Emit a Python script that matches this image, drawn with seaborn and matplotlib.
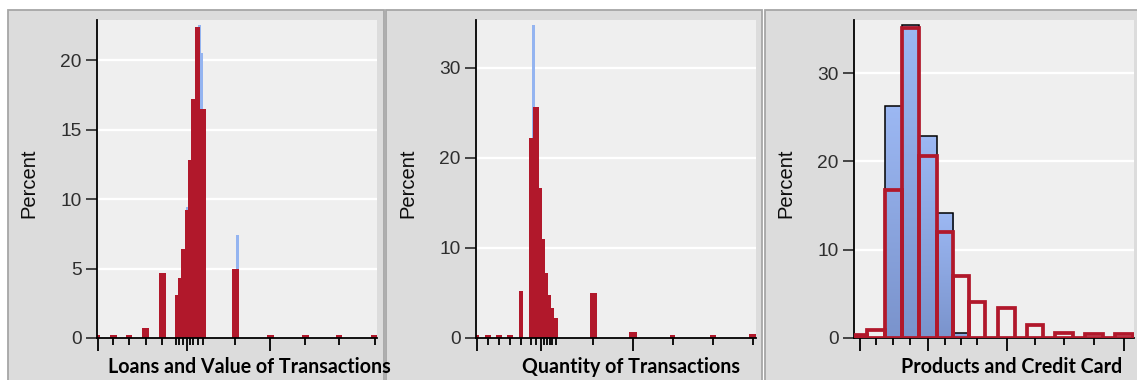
import numpy as np
import matplotlib
matplotlib.use("Agg")
import matplotlib.pyplot as plt
from matplotlib.patches import Rectangle
from matplotlib.colors import LinearSegmentedColormap
import seaborn as sns

# ---------------- data (x on a scaled 0-100 axis, y in percent) ----------------
# Loans and Value of Transactions
loans_left = [-0.4, 4.6, 10.4, 16.1, 22.1, 27.9, 28.8, 30.0, 31.4, 32.6, 33.6, 35.0, 36.8,
              48.2, 60.7, 73.2, 85.4, 97.9]
loans_right = [1.1, 7.1, 12.5, 18.6, 24.6, 28.8, 30.0, 31.4, 32.6, 33.6, 35.0, 36.8, 38.8,
               50.7, 63.2, 75.7, 87.5, 100.4]
loans_pct = [0.25, 0.25, 0.25, 0.75, 4.7, 3.1, 4.3, 6.4, 9.2, 12.8, 17.2, 22.4, 16.5,
             5.0, 0.25, 0.25, 0.25, 0.25]
loans_blue_left = [31.7, 36.2, 37.0, 49.6]
loans_blue_right = [32.6, 37.0, 37.9, 50.8]
loans_blue_pct = [9.4, 22.55, 20.5, 7.4]

# Quantity of Transactions
qty_left = [-0.4, 3.2, 7.1, 11.2, 15.4, 19.0, 20.5, 22.5, 23.7, 24.6, 25.8, 26.7, 27.9,
            40.7, 54.6, 69.3, 83.6, 97.6]
qty_right = [1.1, 5.3, 9.2, 13.1, 16.9, 20.5, 22.5, 23.7, 24.6, 25.8, 26.7, 27.9, 29.2,
             43.1, 57.4, 71.1, 85.6, 100.3]
qty_pct = [0.35, 0.35, 0.35, 0.35, 5.2, 22.2, 25.6, 16.6, 11.0, 7.2, 4.8, 3.3, 2.2,
           5.0, 0.7, 0.35, 0.35, 0.4]
qty_blue_left = [20.0]
qty_blue_right = [21.1]
qty_blue_pct = [34.8]

# Products and Credit Card
prod_left = [-0.5, 4.6, 11.1, 17.1, 23.2, 29.5, 35.4, 40.9, 51.5, 61.7, 71.8, 82.5, 93.2]
prod_right = [4.6, 11.1, 17.1, 23.2, 29.5, 35.4, 40.9, 46.8, 57.5, 67.6, 78.3, 89.0, 99.75]
prod_pct = [0.3, 0.9, 16.8, 35.1, 20.6, 12.0, 7.0, 4.05, 3.4, 1.45, 0.6, 0.45, 0.45]
prod_blue_left = [11.1, 17.1, 23.2, 29.5, 35.4]
prod_blue_right = [17.1, 23.2, 29.5, 35.4, 40.9]
prod_blue_pct = [26.3, 35.45, 22.9, 14.2, 0.6]

titles = ["Loans and Value of Transactions", "Quantity of Transactions", "Products and Credit Card"]
y_ticks = [[0, 5, 10, 15, 20], [0, 10, 20, 30], [0, 10, 20, 30]]

# ---------------- style ----------------
RED = "#b1182b"
BLUE = "#94b4f0"
W, H = 1137, 380

sns.set_theme(style="ticks")
plt.rcParams["font.family"] = ["Liberation Sans", "DejaVu Sans"]

fig = plt.figure(figsize=(W / 100, H / 100), dpi=100)
fig.patch.set_facecolor("white")

# grey cell frames behind each plot
for x0, x1 in [(8, 384), (386, 762), (765, 1150)]:
    fig.add_artist(Rectangle((x0 / W, -0.1), (x1 - x0) / W, 1.1 - 10 / H,
                             transform=fig.transFigure, facecolor="#dcdcdc",
                             edgecolor="#a6a6a6", lw=1.3, zorder=-5))


def bins_plot(ax, lefts, rights, heights, **kw):
    lefts = np.asarray(lefts, float)
    rights = np.asarray(rights, float)
    edges = [float(e) for e in np.unique(np.r_[lefts, rights])]
    centers = (lefts + rights) / 2
    n0 = len(ax.patches)
    sns.histplot(x=centers, weights=np.asarray(heights, float), bins=edges,
                 stat="count", ax=ax, **kw)
    return ax.patches[n0:]


def gradient_fill(ax, patches, top, bottom):
    cmap = LinearSegmentedColormap.from_list("bar_grad", [bottom, top])
    grad = np.linspace(0, 1, 128).reshape(-1, 1)
    for p in patches:
        h = p.get_height()
        if h <= 0:
            continue
        x, w = p.get_x(), p.get_width()
        im = ax.imshow(grad, extent=(x, x + w, 0, h), origin="lower", cmap=cmap,
                       aspect="auto", interpolation="bilinear", zorder=p.get_zorder() - 0.05)
        im.set_clip_path(p)
        p.set_facecolor("none")


panels = [
    dict(left=97, ylim=22.9, red=(loans_left, loans_right, loans_pct),
         blue=(loans_blue_left, loans_blue_right, loans_blue_pct), long_idx=[0, 8, 14], hollow=False),
    dict(left=476, ylim=35.3, red=(qty_left, qty_right, qty_pct),
         blue=(qty_blue_left, qty_blue_right, qty_blue_pct), long_idx=[0, 7, 14], hollow=False),
    dict(left=854, ylim=36.0, red=(prod_left, prod_right, prod_pct),
         blue=(prod_blue_left, prod_blue_right, prod_blue_pct), long_idx=[0, 4, 8, 12], hollow=True),
]

for i, p in enumerate(panels):
    ax = fig.add_axes([p["left"] / W, 42 / H, 280 / W, 318 / H])
    ax.set_facecolor("#efefef")

    if p["hollow"]:
        bp = bins_plot(ax, *p["blue"], color=BLUE, edgecolor="black", linewidth=1.1, alpha=1)
        gradient_fill(ax, bp, "#9cb8f3", "#7a93cc")
        bins_plot(ax, *p["red"], fill=False, color=RED, linewidth=2.7, zorder=3)
    else:
        bins_plot(ax, *p["blue"], color=BLUE, linewidth=0, alpha=1)
        bins_plot(ax, *p["red"], color=RED, linewidth=0, alpha=1)

    ax.set_xlim(0, 100)
    ax.set_ylim(0, p["ylim"])

    # ticks at the bin centres, some drawn longer
    lefts, rights, _ = p["red"]
    centers = (np.asarray(lefts) + np.asarray(rights)) / 2
    major = [centers[k] for k in p["long_idx"]]
    minor = [c for k, c in enumerate(centers) if k not in p["long_idx"]]
    ax.set_xticks(major)
    ax.set_xticks(minor, minor=True)
    ax.tick_params(axis="x", which="major", length=9, width=1.3, color="black",
                   labelbottom=False, direction="out")
    ax.tick_params(axis="x", which="minor", length=5, width=1.3, color="black",
                   direction="out")

    ax.set_yticks(y_ticks[i])
    ax.tick_params(axis="y", length=8, width=1.2, color="#2a2a2a", pad=3,
                   labelsize=13.8, labelcolor="#2e2e2e", direction="out")
    ax.yaxis.grid(True, color="white", lw=1.7)
    ax.xaxis.grid(False)
    ax.set_axisbelow(True)

    for s in ("top", "right"):
        ax.spines[s].set_visible(False)
    for s in ("left", "bottom"):
        ax.spines[s].set_color("black")
        ax.spines[s].set_linewidth(1.3)

    ax.set_xlabel("")
    ax.set_ylabel("Percent", fontsize=14.5, color="#0d0d0d")
    ax.yaxis.set_label_coords(-58.5 / 280, 0.488)

# bold captions under each plot
caption_pos = [(108, 284), (521.5, 217), (901, 219)]
texts = []
for (x, wpx), t in zip(caption_pos, titles):
    texts.append(fig.text(x / W, 1 - 373 / H, t, fontsize=10, fontweight="bold",
                          family=["Lato", "DejaVu Sans"], color="black",
                          ha="left", va="baseline"))
fig.canvas.draw()
r = fig.canvas.get_renderer()
scale = np.mean([wpx / txt.get_window_extent(r).width for (x, wpx), txt in zip(caption_pos, texts)])
for txt in texts:
    txt.set_fontsize(10 * scale)

fig.savefig("out.png", dpi=100, facecolor="white")
